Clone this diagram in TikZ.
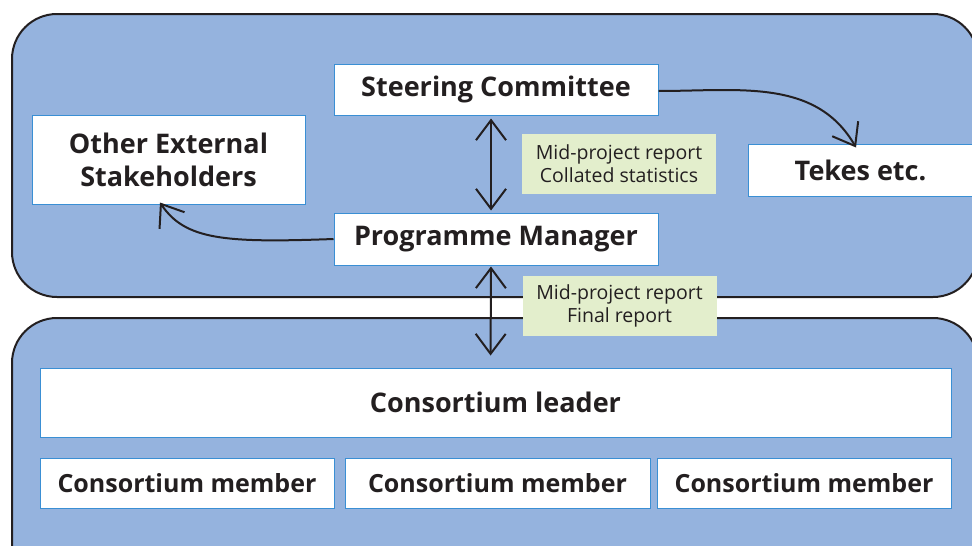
\documentclass[tikz,border=0pt]{standalone}
\usepackage{fontspec}
\setmainfont{Open Sans}
\usetikzlibrary{arrows.meta}
\definecolor{panelblue}{HTML}{95B3DE}
\definecolor{boxedge}{HTML}{3A8FD4}
\definecolor{notegreen}{HTML}{E3EECC}
\definecolor{inkline}{HTML}{231F20}
\tikzset{
  panel/.style={draw=inkline,line width=2pt,fill=panelblue,rounded corners=45pt},
  unit/.style={draw=boxedge,line width=1pt,fill=white,text=inkline,
    font=\fontsize{27}{33}\selectfont\bfseries,align=center,inner sep=0pt},
  member/.style={unit,font=\fontsize{25}{30}\selectfont\bfseries,minimum height=50pt},
  note/.style={fill=notegreen,text=inkline,font=\fontsize{19.5}{23}\selectfont,
    align=center,inner sep=0pt,minimum width=194pt,minimum height=60pt},
  barb/.tip={Straight Barb[length=20pt,width=30pt]},
  flow/.style={draw=inkline,line width=2pt,-barb},
  both/.style={draw=inkline,line width=2pt,barb-barb}
}
\begin{document}
\begin{tikzpicture}[x=1pt,y=-1pt]
   \clip (0,0) rectangle (972,546);
   % panels
   \draw[panel] (12,14) rectangle (978,297);
   \draw[panel] (12,318) rectangle (978,600);
   % upper level
   \node[unit,minimum width=324pt,minimum height=51pt] (steer) at (496,89.5) {Steering Committee};
   \node[unit,minimum width=273pt,minimum height=89pt] (other) at (168.5,159.5) {Other External\\Stakeholders};
   \node[unit,minimum width=224pt,minimum height=52pt] (tekes) at (860.5,170) {Tekes etc.};
   \node[unit,minimum width=324pt,minimum height=52pt] (pm) at (496,239) {Programme Manager};
   \node[note] (noteup) at (619,164) {Mid-project report\\Collated statistics};
   % consortium
   \node[unit,minimum width=911pt,minimum height=69pt] (leader) at (495.5,402.5) {Consortium leader};
   \node[member,minimum width=294pt] (memA) at (187,483) {Consortium member};
   \node[member,minimum width=305pt] (memB) at (497.5,483) {Consortium member};
   \node[member,minimum width=294pt] (memC) at (804,483) {Consortium member};
   % reporting lines
   \draw[both,shorten <=3pt,shorten >=2pt] ([xshift=-5pt]steer.south) -- ([xshift=-5pt]pm.north);
   \draw[both,shorten <=1pt,shorten >=12pt] ([xshift=-5pt]pm.south) -- ([xshift=-5pt]leader.north);
   \node[note] (notedown) at (619.5,306) {Mid-project report\\Final report};
   \draw[flow] ([yshift=-1.5pt]steer.east) to[out=0,in=120] ([xshift=-4.5pt,yshift=-4pt]tekes.north);
   \draw[flow] (pm.west) .. controls (225,243) and (185,240) .. ([xshift=-8.5pt,yshift=2pt]other.south);
 \end{tikzpicture}
\end{document}
